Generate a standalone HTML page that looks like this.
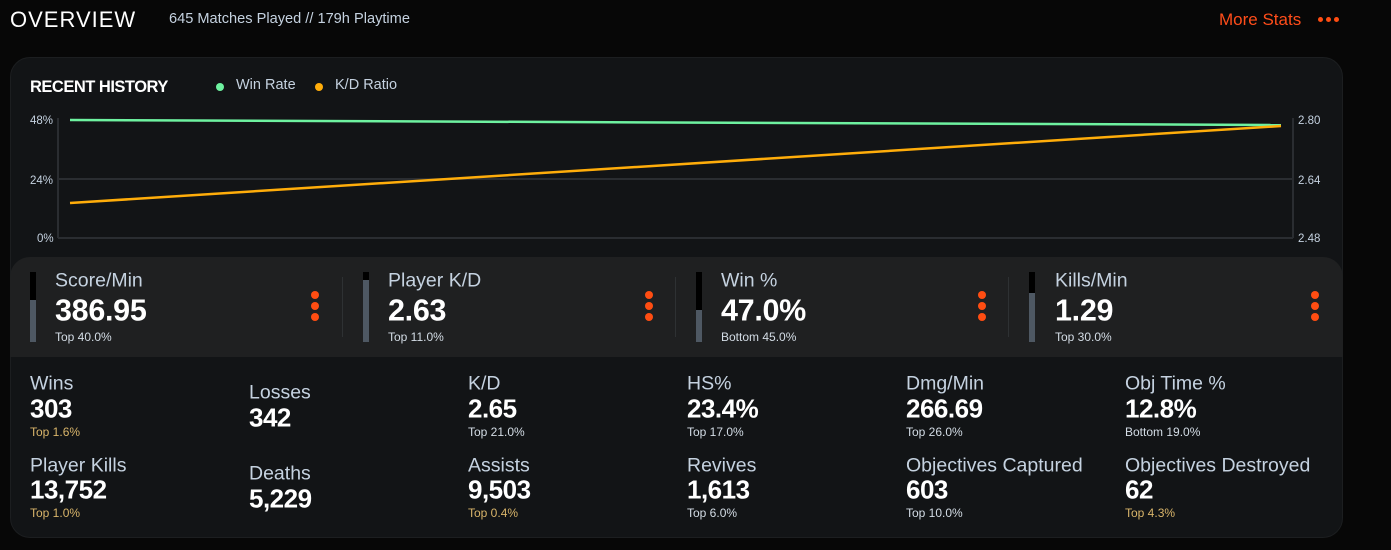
<!DOCTYPE html>
<html><head><meta charset="utf-8"><style>
*{margin:0;padding:0;box-sizing:border-box}
body{width:1391px;height:550px;background:#070707;font-family:"Liberation Sans",sans-serif;position:relative;overflow:hidden;color:#fff}
.a{position:absolute;white-space:nowrap}
.card{position:absolute;left:10px;top:57px;width:1333px;height:481px;background:#121416;border-radius:20px;border:1px solid #1c1e20;overflow:hidden}
.strip{position:absolute;left:0;top:199px;width:1333px;height:100px;background:#1f2021;border-radius:20px 20px 0 0}
.lab{font-size:19.5px;color:#c5d2e0;transform:translateY(-50%)}
.val{font-size:26px;font-weight:bold;color:#fff;transform:translateY(-50%);letter-spacing:-0.5px}
.big{font-size:30.5px;font-weight:bold;color:#fff;transform:translateY(-50%);letter-spacing:-0.3px}
.sub{font-size:12px;color:#d4dde6;transform:translateY(-50%)}
.gold{color:#d9b56a}
.dot{position:absolute;width:8px;height:8px;border-radius:50%;background:#ff4d12}
</style></head><body>
<div class="a" style="left:10px;top:7px;font-size:22px;letter-spacing:1px;color:#fff">OVERVIEW</div>
<div class="a" style="left:169px;top:11px;font-size:14.6px;color:#c5d2e0">645 Matches Played // 179h Playtime</div>
<div class="a" style="left:1219px;top:10px;font-size:17px;color:#ff4d1a">More Stats</div>
<div class="dot" style="left:1318px;top:17px;width:5px;height:5px"></div>
<div class="dot" style="left:1326px;top:17px;width:5px;height:5px"></div>
<div class="dot" style="left:1334px;top:17px;width:5px;height:5px"></div>
<div class="card"></div>
<div class="a" style="left:30px;top:78px;font-size:16.5px;font-weight:bold;letter-spacing:-0.5px">RECENT HISTORY</div>
<div class="dot" style="left:216px;top:83px;background:#6ef2a0"></div>
<div class="a" style="left:236px;top:77px;font-size:14.5px;color:#c5d2e0">Win Rate</div>
<div class="dot" style="left:315px;top:83px;background:#ffad0a"></div>
<div class="a" style="left:335px;top:77px;font-size:14.5px;color:#c5d2e0">K/D Ratio</div>
<svg class="a" style="left:0;top:0" width="1391" height="260">
<g stroke="#2a2d31" stroke-width="2" fill="none"><line x1="58" y1="118" x2="58" y2="238"/><line x1="1293" y1="118" x2="1293" y2="238"/><line x1="58" y1="179" x2="1293" y2="179"/><line x1="58" y1="238" x2="1293" y2="238"/></g>
<line x1="70" y1="120" x2="1281" y2="125" stroke="#6ef2a0" stroke-width="2.5"/>
<line x1="70" y1="203" x2="1281" y2="126" stroke="#ffad0a" stroke-width="2.5"/>
<g font-family="Liberation Sans" font-size="11.5" fill="#c5d2e0"><text x="30" y="124">48%</text><text x="30" y="184">24%</text><text x="37" y="242">0%</text>
<text x="1298" y="124">2.80</text><text x="1298" y="184">2.64</text><text x="1298" y="242">2.48</text></g>
</svg>
<div class="a" style="left:10px;top:0;width:1333px;height:550px">
<div class="strip" style="top:257px"></div></div>
<div class="a" style="left:30px;top:272px;width:6px;height:70px;background:#4e5863"><div style="height:28px;background:#000"></div></div>
<div class="a lab" style="left:55px;top:281px">Score/Min</div><div class="a big" style="left:55px;top:311px">386.95</div><div class="a sub" style="left:55px;top:337px">Top 40.0%</div>
<div class="dot" style="left:311px;top:291px"></div><div class="dot" style="left:311px;top:302px"></div><div class="dot" style="left:311px;top:313px"></div>
<div class="a" style="left:342px;top:277px;width:1px;height:60px;background:#2e3133"></div>

<div class="a" style="left:363px;top:272px;width:6px;height:70px;background:#4e5863"><div style="height:8px;background:#000"></div></div>
<div class="a lab" style="left:388px;top:281px">Player K/D</div><div class="a big" style="left:388px;top:311px">2.63</div><div class="a sub" style="left:388px;top:337px">Top 11.0%</div>
<div class="dot" style="left:645px;top:291px"></div><div class="dot" style="left:645px;top:302px"></div><div class="dot" style="left:645px;top:313px"></div>
<div class="a" style="left:675px;top:277px;width:1px;height:60px;background:#2e3133"></div>

<div class="a" style="left:696px;top:272px;width:6px;height:70px;background:#4e5863"><div style="height:38px;background:#000"></div></div>
<div class="a lab" style="left:721px;top:281px">Win %</div><div class="a big" style="left:721px;top:311px">47.0%</div><div class="a sub" style="left:721px;top:337px">Bottom 45.0%</div>
<div class="dot" style="left:978px;top:291px"></div><div class="dot" style="left:978px;top:302px"></div><div class="dot" style="left:978px;top:313px"></div>
<div class="a" style="left:1008px;top:277px;width:1px;height:60px;background:#2e3133"></div>

<div class="a" style="left:1029px;top:272px;width:6px;height:70px;background:#4e5863"><div style="height:21px;background:#000"></div></div>
<div class="a lab" style="left:1055px;top:281px">Kills/Min</div><div class="a big" style="left:1055px;top:311px">1.29</div><div class="a sub" style="left:1055px;top:337px">Top 30.0%</div>
<div class="dot" style="left:1311px;top:291px"></div><div class="dot" style="left:1311px;top:302px"></div><div class="dot" style="left:1311px;top:313px"></div>

<div class="a lab" style="left:30px;top:384px">Wins</div><div class="a val" style="left:30px;top:409px">303</div><div class="a sub gold" style="left:30px;top:432px">Top 1.6%</div>
<div class="a lab" style="left:249px;top:393px">Losses</div><div class="a val" style="left:249px;top:418px">342</div>
<div class="a lab" style="left:468px;top:384px">K/D</div><div class="a val" style="left:468px;top:409px">2.65</div><div class="a sub" style="left:468px;top:432px">Top 21.0%</div>
<div class="a lab" style="left:687px;top:384px">HS%</div><div class="a val" style="left:687px;top:409px">23.4%</div><div class="a sub" style="left:687px;top:432px">Top 17.0%</div>
<div class="a lab" style="left:906px;top:384px">Dmg/Min</div><div class="a val" style="left:906px;top:409px">266.69</div><div class="a sub" style="left:906px;top:432px">Top 26.0%</div>
<div class="a lab" style="left:1125px;top:384px">Obj Time %</div><div class="a val" style="left:1125px;top:409px">12.8%</div><div class="a sub" style="left:1125px;top:432px">Bottom 19.0%</div>

<div class="a lab" style="left:30px;top:466px">Player Kills</div><div class="a val" style="left:30px;top:490px">13,752</div><div class="a sub gold" style="left:30px;top:513px">Top 1.0%</div>
<div class="a lab" style="left:249px;top:474px">Deaths</div><div class="a val" style="left:249px;top:499px">5,229</div>
<div class="a lab" style="left:468px;top:466px">Assists</div><div class="a val" style="left:468px;top:490px">9,503</div><div class="a sub gold" style="left:468px;top:513px">Top 0.4%</div>
<div class="a lab" style="left:687px;top:466px">Revives</div><div class="a val" style="left:687px;top:490px">1,613</div><div class="a sub" style="left:687px;top:513px">Top 6.0%</div>
<div class="a lab" style="left:906px;top:466px">Objectives Captured</div><div class="a val" style="left:906px;top:490px">603</div><div class="a sub" style="left:906px;top:513px">Top 10.0%</div>
<div class="a lab" style="left:1125px;top:466px">Objectives Destroyed</div><div class="a val" style="left:1125px;top:490px">62</div><div class="a sub gold" style="left:1125px;top:513px">Top 4.3%</div>
</body></html>
